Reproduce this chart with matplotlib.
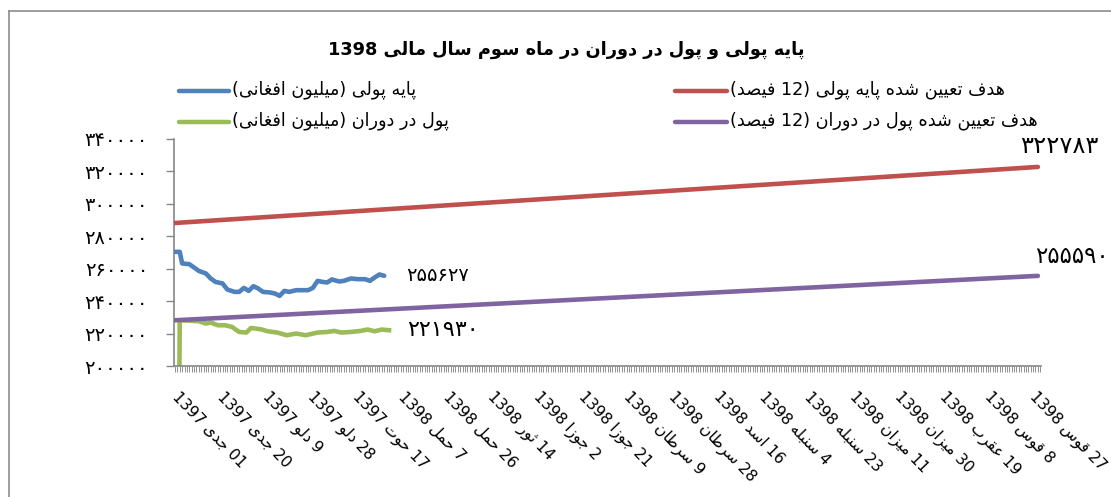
import re
import matplotlib
matplotlib.use("Agg")
import matplotlib.pyplot as plt
from matplotlib.lines import Line2D
from matplotlib import font_manager
from matplotlib.ft2font import FT2Font
from matplotlib.transforms import offset_copy

# ---------------- data ----------------
title = "پایه پولی و پول در دوران در ماه سوم سال مالی 1398"
name_base = "پایه پولی (میلیون افغانی)"
name_circ = "پول در دوران (میلیون افغانی)"
name_base_target = "هدف تعیین شده پایه پولی (12 فیصد)"
name_circ_target = "هدف تعیین شده پول در دوران (12 فیصد)"

date_labels = ["01 جدی 1397", "20 جدی 1397", "9 دلو 1397", "28 دلو 1397",
               "17 حوت 1397", "7 حمل 1398", "26 حمل 1398", "14 ثور 1398",
               "2 جوزا 1398", "21 جوزا 1398", "9 سرطان 1398", "28 سرطان 1398",
               "16 اسد 1398", "4 سنبله 1398", "23 سنبله 1398", "11 میزان 1398",
               "30 میزان 1398", "19 عقرب 1398", "8 قوس 1398", "27 قوس 1398"]
label_step = 19
n_days = 365

base_x = [0, 2, 3, 6, 8, 10, 13, 15, 17, 20, 22, 25, 27, 29, 31, 33, 35, 37,
          40, 42, 44, 46, 48, 51, 53, 56, 58, 60, 62, 64, 66, 69, 71, 74, 77,
          80, 82, 84, 86, 88]
base_y = [270410, 270410, 263245, 262810, 260775, 258675, 257070, 253980,
          251880, 250895, 247190, 245710, 245710, 248180, 246325, 249230,
          247810, 245710, 245340, 244720, 243240, 246325, 245710, 246760,
          246760, 246760, 248180, 252500, 251880, 251510, 253365, 252130,
          252500, 253980, 253550, 253550, 252500, 254600, 256450, 255627]

circ_x = [1, 2, 10, 13, 15, 18, 21, 24, 27, 30, 32, 36, 39, 43, 47, 51, 55,
          60, 64, 67, 70, 74, 78, 81, 84, 87, 91]
circ_y = [0, 228230, 227615, 226190, 226810, 225140, 225140, 224090, 221000,
          220640, 223480, 222675, 221440, 220640, 218970, 220020, 218970,
          220640, 221000, 221620, 220640, 221000, 221620, 222490, 221440,
          222490, 221930]

target_x = [0, 363]
base_target = [288199, 322783]
circ_target = [228205, 255590]

y_ticks = list(range(200000, 340001, 20000))

colors = {"base": "#4F81BD", "circ": "#9BBB59",
          "base_t": "#C0504D", "circ_t": "#8064A2"}

# ------------- Persian text shaping (no shaping engine in matplotlib) -------------
FONT = "DejaVu Sans"


def _cmap(weight):
    path = font_manager.findfont(font_manager.FontProperties(family=FONT, weight=weight))
    return set(FT2Font(path).get_charmap().keys())


CM_REG = _cmap("normal")
CM_BOLD = _cmap("bold")

FORMS = {
    '\u0627': ('\uFE8D', '\uFE8E', None, None),
    '\u0628': ('\uFE8F', '\uFE90', '\uFE91', '\uFE92'),
    '\u067E': ('\uFB56', '\uFB57', '\uFB58', '\uFB59'),
    '\u062A': ('\uFE95', '\uFE96', '\uFE97', '\uFE98'),
    '\u062B': ('\uFE99', '\uFE9A', '\uFE9B', '\uFE9C'),
    '\u062C': ('\uFE9D', '\uFE9E', '\uFE9F', '\uFEA0'),
    '\u062D': ('\uFEA1', '\uFEA2', '\uFEA3', '\uFEA4'),
    '\u062F': ('\uFEA9', '\uFEAA', None, None),
    '\u0631': ('\uFEAD', '\uFEAE', None, None),
    '\u0632': ('\uFEAF', '\uFEB0', None, None),
    '\u0633': ('\uFEB1', '\uFEB2', '\uFEB3', '\uFEB4'),
    '\u0634': ('\uFEB5', '\uFEB6', '\uFEB7', '\uFEB8'),
    '\u0635': ('\uFEB9', '\uFEBA', '\uFEBB', '\uFEBC'),
    '\u0637': ('\uFEC1', '\uFEC2', '\uFEC3', '\uFEC4'),
    '\u0639': ('\uFEC9', '\uFECA', '\uFECB', '\uFECC'),
    '\u063A': ('\uFECD', '\uFECE', '\uFECF', '\uFED0'),
    '\u0641': ('\uFED1', '\uFED2', '\uFED3', '\uFED4'),
    '\u0642': ('\uFED5', '\uFED6', '\uFED7', '\uFED8'),
    '\u0644': ('\uFEDD', '\uFEDE', '\uFEDF', '\uFEE0'),
    '\u0645': ('\uFEE1', '\uFEE2', '\uFEE3', '\uFEE4'),
    '\u0646': ('\uFEE5', '\uFEE6', '\uFEE7', '\uFEE8'),
    '\u0647': ('\uFEE9', '\uFEEA', '\uFEEB', '\uFEEC'),
    '\u0648': ('\uFEED', '\uFEEE', None, None),
    '\u06CC': ('\uFBFC', '\uFBFD', '\uFBFE', '\uFBFF'),
}
if not all(ord(c) in CM_REG for c in FORMS['\u06CC']):
    FORMS['\u06CC'] = ('\uFEEF', '\uFEF0', '\uFEF3', '\uFEF4')


def shape(s):
    out = []
    for i, ch in enumerate(s):
        if ch not in FORMS:
            out.append(ch)
            continue
        prev = s[i - 1] if i > 0 else ''
        nxt = s[i + 1] if i + 1 < len(s) else ''
        pj = prev in FORMS and FORMS[prev][2] is not None
        nj = nxt in FORMS and FORMS[ch][2] is not None
        f = FORMS[ch]
        if pj and nj:
            out.append(f[3])
        elif pj:
            out.append(f[1])
        elif nj:
            out.append(f[2])
        else:
            out.append(f[0])
    return ''.join(out)


def fa(s):
    s = shape(s)
    s = s.translate(str.maketrans({'(': ')', ')': '('}))
    toks = re.findall(r'[0-9]+|[^0-9]+', s)
    return ''.join(t if t.isdigit() else t[::-1] for t in reversed(toks))


def fa_num(v):
    return str(int(v)).translate(str.maketrans('0123456789', '۰۱۲۳۴۵۶۷۸۹'))


# ---------------- figure ----------------
W, H = 1111, 497
fig = plt.figure(figsize=(W / 100, H / 100), dpi=100)
plt.rcParams['font.family'] = [FONT]

px = 2.377
x_left = 175 - 0.5 * px
x_right = 175 + (n_days - 0.5) * px
ax = fig.add_axes([x_left / W, (H - 366) / H, (x_right - x_left) / W, (366 - 139) / H])
ax.set_xlim(-0.5, n_days - 0.5)
ax.set_ylim(y_ticks[0], y_ticks[-1])

lw = 3.3
ax.plot(target_x, base_target, color=colors["base_t"], lw=lw, solid_capstyle='round', zorder=3)
ax.plot(target_x, circ_target, color=colors["circ_t"], lw=lw, solid_capstyle='round', zorder=4)
ax.plot(base_x, base_y, color=colors["base"], lw=lw, solid_capstyle='round', solid_joinstyle='round', zorder=3)
ax.plot(circ_x, circ_y, color=colors["circ"], lw=lw, solid_capstyle='butt', solid_joinstyle='round', zorder=2)

for s in ["top", "right"]:
    ax.spines[s].set_visible(False)
for s in ["left", "bottom"]:
    ax.spines[s].set_color("#868686")
    ax.spines[s].set_linewidth(1.2)

ax.set_yticks(y_ticks)
ax.set_yticklabels([fa_num(v) for v in y_ticks])
ax.tick_params(axis='y', direction='out', length=5.5, width=1.0, color="#868686",
               pad=13, labelsize=14)

major = list(range(0, n_days, label_step))[:len(date_labels)]
ax.set_xticks(major)
ax.set_xticklabels([])
ax.set_xticks(list(range(n_days)), minor=True)
ax.tick_params(axis='x', which='both', direction='out', length=4.5, width=0.6,
               color="#7f7f7f")

# date labels, rotated like the Excel category axis
lab_tr = offset_copy(ax.get_xaxis_transform(), fig=fig, x=5, y=-23, units='dots')
for xi, txt in zip(major, date_labels):
    ax.text(xi, 0, fa(txt), transform=lab_tr, rotation=-46, rotation_mode='anchor',
            ha='left', va='top', fontsize=11.2)

# end-of-series value labels
lab_kw = dict(textcoords='offset pixels', annotation_clip=False, ha='left', va='center')
ax.annotate(fa_num(base_y[-1]), (base_x[-1], base_y[-1]), xytext=(22, 0), fontsize=14, **lab_kw)
ax.annotate(fa_num(circ_y[-1]), (circ_x[-1], circ_y[-1]), xytext=(16, 0), fontsize=16, **lab_kw)
ax.annotate(fa_num(base_target[-1]), (target_x[-1], base_target[-1]), xytext=(-18, 21),
            fontsize=17.5, **lab_kw)
ax.annotate(fa_num(circ_target[-1]), (target_x[-1], circ_target[-1]), xytext=(-3, 19),
            fontsize=16.5, **lab_kw)

# title
title_weight = 'bold' if all(ord(c) in CM_BOLD for c in fa(title) if c != ' ') else 'normal'
fig.text(566 / W, 1 - 50 / H, fa(title), ha='center', va='center', fontsize=12.8,
         fontweight=title_weight)

# legend (manual, Excel style)
legend_items = [
    (name_base, colors["base"], 179, 229, 90.5),
    (name_circ, colors["circ"], 179, 229, 121.5),
    (name_base_target, colors["base_t"], 675, 727, 90.5),
    (name_circ_target, colors["circ_t"], 675, 727, 121.5),
]
for name, c, x0, x1, y in legend_items:
    fig.add_artist(Line2D([x0 / W, x1 / W], [1 - y / H, 1 - y / H], color=c, lw=3.2,
                          solid_capstyle='round', transform=fig.transFigure))
    fig.text((x1 + 3) / W, 1 - (y - 0.5) / H, fa(name), ha='left', va='center', fontsize=12.7)

# chart-area border (left and top edges visible)
fig.add_artist(Line2D([8.5 / W, 8.5 / W], [0, 1 - 10.5 / H], color="#8c8c8c", lw=1.2,
                      transform=fig.transFigure))
fig.add_artist(Line2D([8.5 / W, 1], [1 - 10.5 / H, 1 - 10.5 / H], color="#8c8c8c", lw=1.2,
                      transform=fig.transFigure))

fig.savefig("out.png", dpi=100)
